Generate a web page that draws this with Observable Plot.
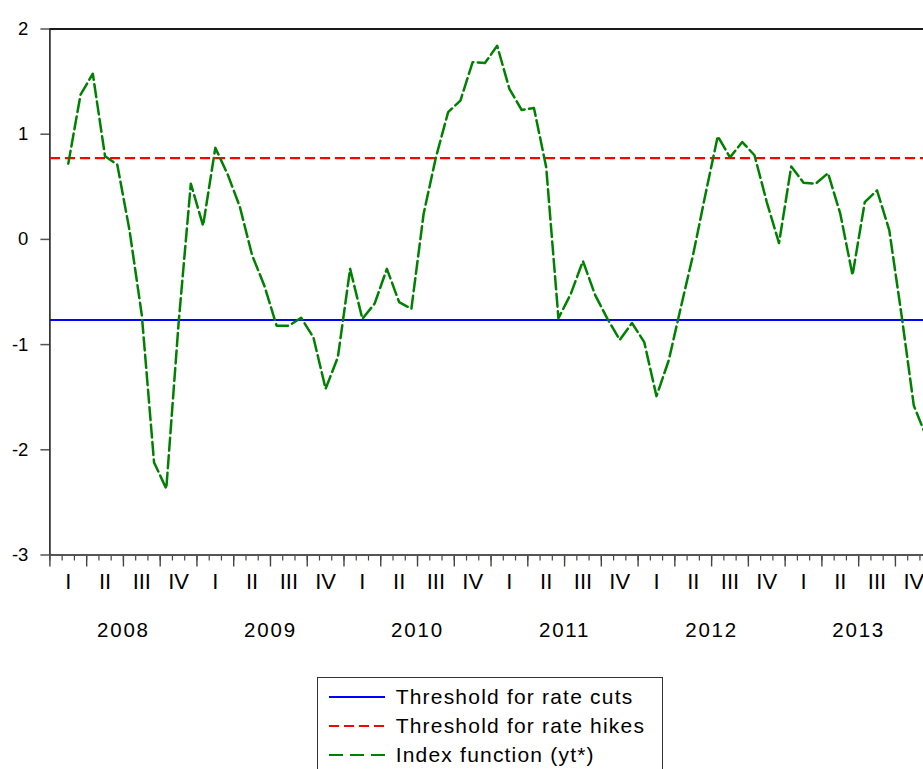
<!DOCTYPE html>
<html>
<head>
<meta charset="utf-8">
<script src="https://cdn.jsdelivr.net/npm/d3@7"></script>
<script src="https://cdn.jsdelivr.net/npm/@observablehq/plot@0.6"></script>
<style>
  body { margin: 0; background: #fff; font-family: "Liberation Sans", Arial, sans-serif; }
  #wrap { position: relative; width: 923px; height: 769px; overflow: hidden; background: #fff; }
  #chart { position: absolute; left: 0; top: 0; }
  #legend { position: absolute; left: 316.7px; top: 676.7px; width: 346px; height: 100px;
            border: 1.5px solid #333; box-sizing: border-box; padding-top: 4.5px; background: #fff; }
  .row { display: flex; align-items: center; height: 29px; font-size: 21px; letter-spacing: 1.2px; color: #000; }
  .row svg { margin-left: 11px; margin-right: 11px; flex: none; }
</style>
</head>
<body>
<div id="wrap">
  <div id="chart"></div>
  <div id="legend"></div>
</div>
<script>
// ---- data ----
const months = [
  "2008M02","2008M03","2008M04","2008M05","2008M06","2008M07","2008M08","2008M09","2008M10","2008M11","2008M12",
  "2009M01","2009M02","2009M03","2009M04","2009M05","2009M06","2009M07","2009M08","2009M09","2009M10","2009M11","2009M12",
  "2010M01","2010M02","2010M03","2010M04","2010M05","2010M06","2010M07","2010M08","2010M09","2010M10","2010M11","2010M12",
  "2011M01","2011M02","2011M03","2011M04","2011M05","2011M06","2011M07","2011M08","2011M09","2011M10","2011M11","2011M12",
  "2012M01","2012M02","2012M03","2012M04","2012M05","2012M06","2012M07","2012M08","2012M09","2012M10","2012M11","2012M12",
  "2013M01","2013M02","2013M03","2013M04","2013M05","2013M06","2013M07","2013M08","2013M09","2013M10","2013M11","2013M12"
];
const indexFunction = [
  0.72, 1.375, 1.575, 0.79, 0.71, 0.085, -0.72, -2.12, -2.37, -0.80, 0.53,
  0.13, 0.87, 0.62, 0.31, -0.15, -0.44, -0.82, -0.82, -0.745, -0.93, -1.42, -1.12,
  -0.28, -0.755, -0.61, -0.28, -0.596, -0.66, 0.244, 0.78, 1.21, 1.32, 1.685, 1.676,
  1.84, 1.43, 1.23, 1.25, 0.687, -0.75, -0.52, -0.206, -0.53, -0.755, -0.955, -0.795,
  -0.976, -1.49, -1.15, -0.64, -0.14, 0.43, 0.98, 0.78, 0.925, 0.80, 0.355, -0.035,
  0.694, 0.539, 0.53, 0.63, 0.244, -0.34, 0.355, 0.466, 0.086, -0.72, -1.58, -1.87
];
const thresholdCuts = -0.765;
const thresholdHikes = 0.773;
const years = [2008, 2009, 2010, 2011, 2012, 2013];
const quarterLabels = ["I", "II", "III", "IV"];
const yTicks = [-3, -2, -1, 0, 1, 2];

// ---- derived ----
const firstYear = years[0];
const monthPos = m => (+m.slice(0, 4) - firstYear) * 12 + (+m.slice(5) - 1) + 0.5;
const series = months.map((m, i) => ({x: monthPos(m), y: indexFunction[i]}));
const monthTicks = d3.range(0, years.length * 12);
const quarterTicks = monthTicks.filter(t => t % 3 === 0);
const quarterCenters = quarterTicks.map(t => t + 1.5);
const yearCenters = years.map((y, i) => i * 12 + 6);

const W = 923, mL = 49.4;
const pxPerMonth = 12.254;
const xMax = (W - mL) / pxPerMonth;
const FONT = '"Liberation Sans", Arial, sans-serif';

const chart = Plot.plot({
  width: W,
  height: 670,
  marginLeft: mL,
  marginRight: 0,
  marginTop: 28.5,
  marginBottom: 115.5,
  style: {fontFamily: FONT, background: "#fff", color: "#000"},
  x: {domain: [0, xMax], axis: null},
  y: {domain: [-3, 2], axis: null},
  marks: [
    // y axis ticks + labels
    Plot.axisY(yTicks, {tickSize: 9, stroke: "#555", strokeWidth: 1.5, tickFormat: () => "", label: null}),
    Plot.text(yTicks, {y: d => d, frameAnchor: "left", dx: -21.5, textAnchor: "end", lineAnchor: "middle",
      fontSize: 18.5, fill: "#000", text: d => String(d)}),
    // minor month ticks
    Plot.axisX(monthTicks, {tickSize: 6, stroke: "#444", strokeWidth: 1.2, tickFormat: () => "", label: null}),
    // major quarter ticks
    Plot.axisX(quarterTicks, {tickSize: 12, stroke: "#444", strokeWidth: 1.4, tickFormat: () => "", label: null}),
    // quarter labels
    Plot.text(quarterCenters, {x: d => d, frameAnchor: "bottom", dy: 27, lineAnchor: "middle",
      fontSize: 22, fill: "#000", text: d => quarterLabels[Math.floor(d / 3) % 4]}),
    // year labels
    Plot.text(yearCenters, {x: d => d, frameAnchor: "bottom", dy: 75, lineAnchor: "middle",
      fontSize: 20.5, fill: "#000", text: d => String(years[Math.floor(d / 12)])}),
    // frame lines
    Plot.ruleY([2], {stroke: "#1a1a1a", strokeWidth: 2}),
    Plot.ruleY([-3], {stroke: "#555", strokeWidth: 1.8}),
    Plot.ruleX([0], {stroke: "#222", strokeWidth: 1.6}),
    // thresholds
    Plot.ruleY([thresholdCuts], {x1: 0.05, x2: xMax, stroke: "#0000ff", strokeWidth: 2}),
    Plot.ruleY([thresholdHikes], {x1: 0.05, x2: xMax, stroke: "#ff0000", strokeWidth: 2.4, strokeDasharray: "10,5"}),
    // index function
    Plot.line(series, {x: "x", y: "y", stroke: "#008000", strokeWidth: 2.5, strokeDasharray: "13,4.5", clip: true})
  ]
});
// wider letter spacing on year labels, like the reference
d3.select(chart).selectAll("text").filter(function() {
  return years.map(String).includes(this.textContent);
}).style("letter-spacing", "1.8px");
document.getElementById("chart").appendChild(chart);

// ---- legend ----
const legendItems = [
  {label: "Threshold for rate cuts", color: "#0000ff", dash: null},
  {label: "Threshold for rate hikes", color: "#ff0000", dash: "10,5"},
  {label: "Index function (yt*)", color: "#008000", dash: "14,7"}
];
const legend = document.getElementById("legend");
legendItems.forEach(it => {
  const row = document.createElement("div");
  row.className = "row";
  row.innerHTML = `<svg width="56" height="10"><line x1="0" x2="56" y1="5" y2="5" stroke="${it.color}" stroke-width="2.2"${it.dash ? ` stroke-dasharray="${it.dash}"` : ""}/></svg><span>${it.label}</span>`;
  legend.appendChild(row);
});
</script>
</body>
</html>
